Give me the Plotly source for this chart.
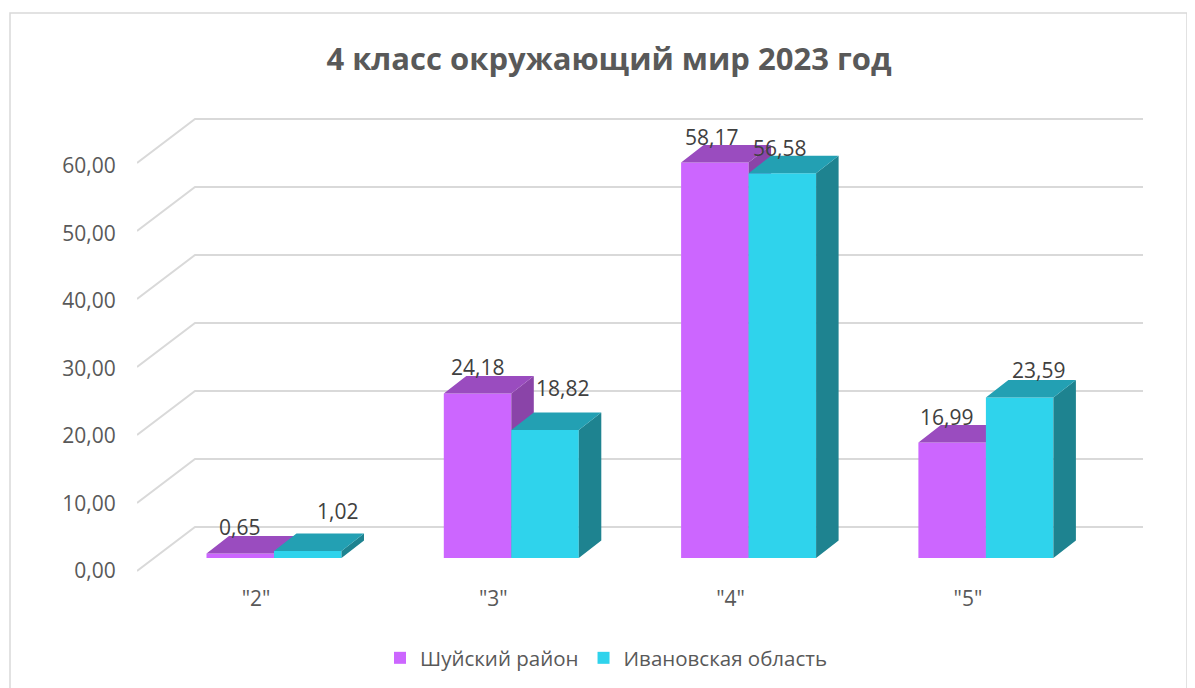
import plotly.graph_objects as go

categories = ['"2"', '"3"', '"4"', '"5"']
shuya = [0.65, 24.18, 58.17, 16.99]
ivanovo = [1.02, 18.82, 56.58, 23.59]
series_names = ["Шуйский район", "Ивановская область"]
grid_values = [0, 10, 20, 30, 40, 50, 60]
title_text = "4 класс окружающий мир 2023 год"

OFF = 8                   # page body margin
W, H = 1195 - OFF, 688 - OFF
PL, PR, PT, PB = 137 - OFF, 1143 - OFF, 100 - OFF, 575 - OFF   # plot rectangle in figure pixels
UNIT = 6.8                # px per value unit
BASE_PY = 558 - OFF       # y of bar base
CAT_W = 237.3             # px per category
CAT0_PX = 274 - OFF       # x of first category centre
BAR_W = 67.5              # bar width px
DX, DY = 22.5, 17.5       # bar depth in px
FONT = "Open Sans"
GREY = "#595959"

px2x = lambda p: (p - CAT0_PX) / CAT_W
py2v = lambda p: (BASE_PY - p) / UNIT
xr = [px2x(PL), px2x(PR)]
yr = [py2v(PB), py2v(PT)]
bw = BAR_W / CAT_W
ddx, ddy = DX / CAT_W, DY / UNIT

fig = go.Figure()

# back wall + side wall lines
gx, gy = [], []
wall_off = (558 - 527) / UNIT
front_off = (558 - 571) / UNIT
for v in grid_values:
    gx += [px2x(137 - OFF), px2x(195 - OFF), px2x(1143 - OFF), None]
    gy += [v + front_off, v + wall_off, v + wall_off, None]
fig.add_trace(go.Scatter(x=gx, y=gy, mode="lines", line=dict(color="#D9D9D9", width=2),
                         showlegend=False, hoverinfo="skip", xaxis="x", yaxis="y"))


def add_series(vals, name, off, front, top, side, xa, ya):
    idx = list(range(len(vals)))
    fig.add_trace(go.Bar(x=[i + off for i in idx], y=vals, width=bw, name=name,
                         marker=dict(color=front, line=dict(width=0)), xaxis=xa, yaxis=ya,
                         hoverinfo="skip"))
    tx, ty, sx, sy = [], [], [], []
    for i, v in zip(idx, vals):
        l, r = i + off - bw / 2, i + off + bw / 2
        tx += [l, r, r + ddx, l + ddx, l, None]
        ty += [v, v, v + ddy, v + ddy, v, None]
        sx += [r, r + ddx, r + ddx, r, r, None]
        sy += [0, ddy, v + ddy, v, 0, None]
    for fx, fy, c in ((sx, sy, side), (tx, ty, top)):
        fig.add_trace(go.Scatter(x=fx, y=fy, mode="lines", fill="toself", fillcolor=c,
                                 line=dict(width=0), showlegend=False, hoverinfo="skip",
                                 xaxis=xa, yaxis=ya))


add_series(shuya, series_names[0], -bw / 2, "#CC66FF", "#9A4CBF", "#8A44A8", "x2", "y2")
add_series(ivanovo, series_names[1], bw / 2, "#2FD3EC", "#23A0B3", "#1E8390", "x3", "y3")

# carrier for the value-axis labels
fig.add_trace(go.Scatter(x=[xr[0]], y=[0], mode="markers", marker=dict(opacity=0),
                         showlegend=False, hoverinfo="skip", xaxis="x", yaxis="y4"))

# data labels, hand-placed like the original
label_shift = [(-1, 27), (30, 40), (0, 27), (17, 42), (-3, 25), (-3, 25), (-6, 25), (19, 28)]
annos = []
k = 0
for i in range(len(categories)):
    for vals, off in ((shuya, -bw / 2), (ivanovo, bw / 2)):
        sx_, sy_ = label_shift[k]
        annos.append(dict(x=i + off, y=vals[i], xref="x", yref="y", text=f"{vals[i]:.2f}".replace(".", ","),
                          showarrow=False, xshift=sx_, yshift=sy_,
                          font=dict(family=FONT, size=21, color="#404040")))
        k += 1

cat_shift = -18 / CAT_W
label_scale = 6.75
y4r = [(571 - OFF - PB) / label_scale, (571 - OFF - PT) / label_scale]
common_x = dict(range=xr, showgrid=False, zeroline=False, showline=False)
common_y = dict(range=yr, showgrid=False, zeroline=False, showline=False)

fig.update_layout(
    width=W, height=H, autosize=False,
    margin=dict(l=PL, r=W - PR, t=PT, b=H - PB, pad=0),
    paper_bgcolor="white", plot_bgcolor="rgba(0,0,0,0)",
    separators=", ",
    barmode="overlay",
    showlegend=True,
    annotations=annos,
    title=dict(text=f"<b>{title_text}</b>", x=(609 - OFF) / W, xanchor="center",
               y=1 - (59 - OFF) / H, yanchor="middle",
               font=dict(family=FONT, size=31, color=GREY)),
    xaxis=dict(**common_x, tickmode="array", tickvals=[i + cat_shift for i in range(4)], ticktext=categories,
               ticks="outside", ticklen=5, tickcolor="rgba(0,0,0,0)", tickfont=dict(family=FONT, size=21, color=GREY)),
    yaxis=dict(**common_y, showticklabels=False, ticks=""),
    xaxis2=dict(**common_x, overlaying="x", showticklabels=False, ticks="", anchor="y2"),
    yaxis2=dict(**common_y, overlaying="y", showticklabels=False, ticks="", anchor="x2"),
    xaxis3=dict(**common_x, overlaying="x", showticklabels=False, ticks="", anchor="y3"),
    yaxis3=dict(**common_y, overlaying="y", showticklabels=False, ticks="", anchor="x3"),
    yaxis4=dict(range=y4r, overlaying="y", anchor="x", side="left", showgrid=False, zeroline=False, showline=False,
                tickmode="array", tickvals=grid_values, tickformat=".2f", ticks="outside", ticklen=16,
                tickcolor="rgba(0,0,0,0)", tickfont=dict(family=FONT, size=21, color=GREY)),
    legend=dict(orientation="h", x=(380 - OFF) / W, xref="container", xanchor="left", y=1 - (658 - OFF) / H,
                yref="container", yanchor="middle", font=dict(family=FONT, size=20.5, color=GREY),
                bgcolor="rgba(0,0,0,0)"),
    shapes=[dict(type="rect", xref="paper", yref="paper",
                 x0=(10 - OFF - PL) / (PR - PL), x1=(1187 - OFF - PL) / (PR - PL),
                 y0=(PB - 700) / (PB - PT), y1=(PB - 13 + OFF) / (PB - PT),
                 line=dict(color="#D9D9D9", width=1.5), fillcolor="rgba(0,0,0,0)", layer="below")],
)

fig.write_html("out.html")
